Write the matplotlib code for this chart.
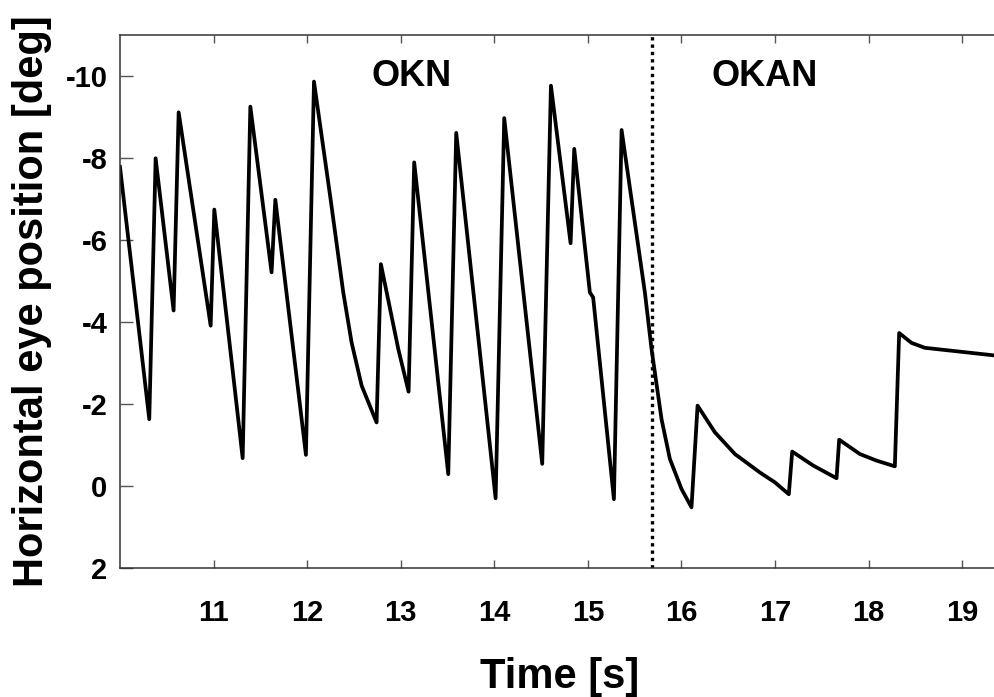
import matplotlib.pyplot as plt
import numpy as np

plt.rcParams['font.family'] = ['Liberation Sans', 'DejaVu Sans']
plt.rcParams['axes.unicode_minus'] = False

# eye position trace (time in s, position in deg)
time_s = [10.00, 10.313, 10.381, 10.573, 10.627, 10.969, 11.008, 11.311, 11.393,
          11.62, 11.66, 11.987, 12.073, 12.25, 12.386, 12.475, 12.582, 12.742,
          12.788, 12.974, 13.084, 13.144, 13.508, 13.593, 14.014, 14.106, 14.512,
          14.605, 14.815, 14.854, 15.021, 15.056, 15.278, 15.36, 15.609, 15.68,
          15.787, 15.876, 16.0, 16.107, 16.172, 16.357, 16.571, 16.838, 16.998,
          17.147, 17.183, 17.407, 17.657, 17.685, 17.906, 18.084, 18.28, 18.326,
          18.458, 18.6, 19.4]
eye_pos = [-7.78, -1.63, -7.99, -4.28, -9.11, -3.91, -6.74, -0.68, -9.25,
           -5.21, -6.98, -0.76, -9.86, -7.0, -4.72, -3.5, -2.45, -1.55,
           -5.41, -3.34, -2.30, -7.89, -0.29, -8.61, 0.30, -8.97, -0.54,
           -9.76, -5.92, -8.22, -4.72, -4.60, 0.32, -8.68, -4.72, -3.34,
           -1.63, -0.66, 0.07, 0.52, -1.96, -1.31, -0.78, -0.33, -0.09,
           0.20, -0.84, -0.50, -0.19, -1.13, -0.78, -0.62, -0.48, -3.73,
           -3.49, -3.37, -3.17]

stim_off = 15.68
x_ticks = [11, 12, 13, 14, 15, 16, 17, 18, 19]
y_ticks = [-10, -8, -6, -4, -2, 0, 2]

fig = plt.figure(figsize=(9.94, 6.97), dpi=100)
ax = fig.add_axes([0.1207, 0.185, 0.885, 0.765])

ax.plot(time_s, eye_pos, color='black', lw=2.7, solid_joinstyle='round')
ax.axvline(stim_off, color='black', lw=2.4, linestyle=(0, (1, 1.2)))

ax.set_xlim(10, 19.4)
ax.set_ylim(2, -11)
ax.set_xticks(x_ticks)
ax.set_yticks(y_ticks)

for lab in ax.get_xticklabels() + ax.get_yticklabels():
    lab.set_fontweight('bold')
    lab.set_fontsize(21)

ax.tick_params(axis='x', direction='in', top=True, length=6, width=1,
               color='#555555', pad=22)
ax.tick_params(axis='y', direction='in', right=False, length=9, width=1,
               color='#555555', pad=9)
for s in ['top', 'bottom', 'left']:
    ax.spines[s].set_color('#333333')
    ax.spines[s].set_linewidth(1.1)
ax.spines['right'].set_visible(False)

ax.set_xlabel('Time [s]', fontsize=30, fontweight='bold')
ax.set_ylabel('Horizontal eye position [deg]', fontsize=30, fontweight='bold')
ax.xaxis.set_label_coords(0.5, -0.166)
ax.yaxis.set_label_coords(-0.077, 0.5)

ax.text(13.12, -9.75, 'OKN', fontsize=26, fontweight='bold', ha='center', va='baseline')
ax.text(16.89, -9.75, 'OKAN', fontsize=26, fontweight='bold', ha='center', va='baseline')

plt.savefig('out.png', dpi=100)
